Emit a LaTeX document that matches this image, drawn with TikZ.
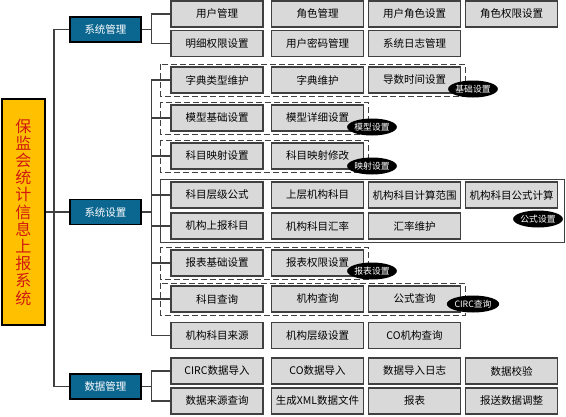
\documentclass[tikz,border=0pt]{standalone}
\usepackage{fontspec}
\setmainfont{Noto Sans CJK SC}
\usetikzlibrary{positioning,calc,shapes.geometric}

\definecolor{titlefill}{HTML}{FFC000}
\definecolor{titletext}{HTML}{D01A10}
\definecolor{catblue}{HTML}{0B6690}
\definecolor{boxfill}{HTML}{D9D9D9}
\definecolor{boxline}{HTML}{404040}

\begin{document}
\begin{tikzpicture}[x=1pt,y=-1pt,
  title/.style={rectangle,draw=black,line width=1.1pt,fill=titlefill,minimum width=43pt,
                minimum height=226pt,inner sep=0pt,align=center,text=titletext,
                font=\fontsize{16}{17.2}\selectfont},
  cat/.style={rectangle,draw=black,line width=1.1pt,fill=catblue,text=white,
              minimum width=71pt,minimum height=25pt,inner sep=0pt,font=\fontsize{10.5}{12}\selectfont},
  item/.style={rectangle,draw=boxline,line width=1.1pt,fill=boxfill,minimum width=92pt,
               minimum height=26pt,inner sep=0pt,font=\fontsize{10.5}{12}\selectfont},
  grp/.style={draw=boxline,line width=1.1pt,dash pattern=on 6pt off 3pt},
  tag/.style={ellipse,fill=black,text=white,inner sep=0pt,minimum width=42pt,
              minimum height=17pt,font=\fontsize{8.8}{10}\selectfont},
  link/.style={draw=boxline,line width=1.1pt}
]
  \useasboundingbox (0,0) rectangle (566,416);

  % ---------- 左侧标题与一级模块 ----------
  \node[title] (title) at (23.5,212) {保\\监\\会\\统\\计\\信\\息\\上\\报\\系\\统};
  \node[cat] (sys)  at (105.5,29.5) {系统管理};
  \node[cat] (set)  at (105.5,212)  {系统设置};
  \node[cat] (data) at (105.5,386.5) {数据管理};

  % ---------- 二级功能 ----------
  \foreach \n/\x/\y/\t in {u1/217/14/用户管理, u2/317.5/14/角色管理, u3/414.5/14/用户角色设置, u4/511.5/14/角色权限设置,
                           m1/217/43.5/明细权限设置, m2/317.5/43.5/用户密码管理, m3/414.5/43.5/系统日志管理}
    \node[item] (\n) at (\x,\y) {\t};

  \foreach \n/\x/\y/\t in {d1/217/80/字典类型维护, d2/317.5/80/字典维护, d3/414.5/80/导数时间设置,
                           x1/217/118/模型基础设置, x2/317.5/118/模型详细设置,
                           y1/217/156/科目映射设置, y2/317.5/156/科目映射修改,
                           g1/217/195/科目层级公式, g2/317.5/195/上层机构科目, g3/414.5/195/机构科目计算范围, g4/511.5/195/机构科目公式计算,
                           g5/217/226/机构上报科目, g6/317.5/226/机构科目汇率, g7/414.5/226/汇率维护,
                           b1/217/263/报表基础设置, b2/317.5/263/报表权限设置,
                           q1/217/299/科目查询, q2/317.5/299/机构查询, q3/414.5/299/公式查询,
                           o1/217/335.5/机构科目来源, o2/317.5/335.5/机构层级设置, o3/414.5/335.5/CO机构查询}
    \node[item] (\n) at (\x,\y) {\t};

  \foreach \n/\x/\y/\t in {s1/217/371/CIRC数据导入, s2/317.5/371/CO数据导入, s3/414.5/371/数据导入日志, s4/511.5/371/数据校验,
                           s5/217/401/数据来源查询, s6/317.5/401/生成XML数据文件, s7/414.5/401/报表, s8/511.5/401/报送数据调整}
    \node[item] (\n) at (\x,\y) {\t};

  % ---------- 分组框 ----------
  \draw[grp]  ($(d1.north west)+(-10,-2)$) rectangle ($(d3.south east)+(4.5,2.5)$);
  \draw[grp]  ($(x1.north west)+(-10,-2)$) rectangle ($(x2.south east)+(4.5,2.5)$);
  \draw[grp]  ($(y1.north west)+(-10,-2)$) rectangle ($(y2.south east)+(4.5,2.5)$);
  \draw[link] ($(g1.north west)+(-10,-2)$) rectangle ($(g4.east |- g7.south)+(6.5,3)$);
  \draw[grp]  ($(b1.north west)+(-10,-2)$) rectangle ($(b2.south east)+(4.5,2.5)$);
  \draw[grp]  ($(q1.north west)+(-10,-2)$) rectangle ($(q3.south east)+(4.5,2.5)$);

  \node[tag] (tjc) at (473,89)  {基础设置};
  \node[tag] (tmx) at (372,127) {模型设置};
  \node[tag] (tys) at (372,166) {映射设置};
  \node[tag] (tgs) at (538,219) {公式设置};
  \node[tag] (tbb) at (372,271) {报表设置};
  \node[tag] (tcx) at (473,304) {CIRC查询};

  % ---------- 连线 ----------
  \coordinate (trunk) at (54,212);
  \draw[link] (title) -- (set);
  \draw[link] (sys.west) -| (trunk) |- (data.west);
  \foreach \c in {u1,m1}
    \draw[link] (sys.east) -- ++(10,0) |- (\c.west);
  \foreach \c in {d1,x1,y1,g1,g5,b1,q1,o1}
    \draw[link] (set.east) -- ++(10,0) |- (\c.west);
  \foreach \c in {s1,s5}
    \draw[link] (data.east) -- ++(10,0) |- (\c.west);
\end{tikzpicture}
\end{document}
